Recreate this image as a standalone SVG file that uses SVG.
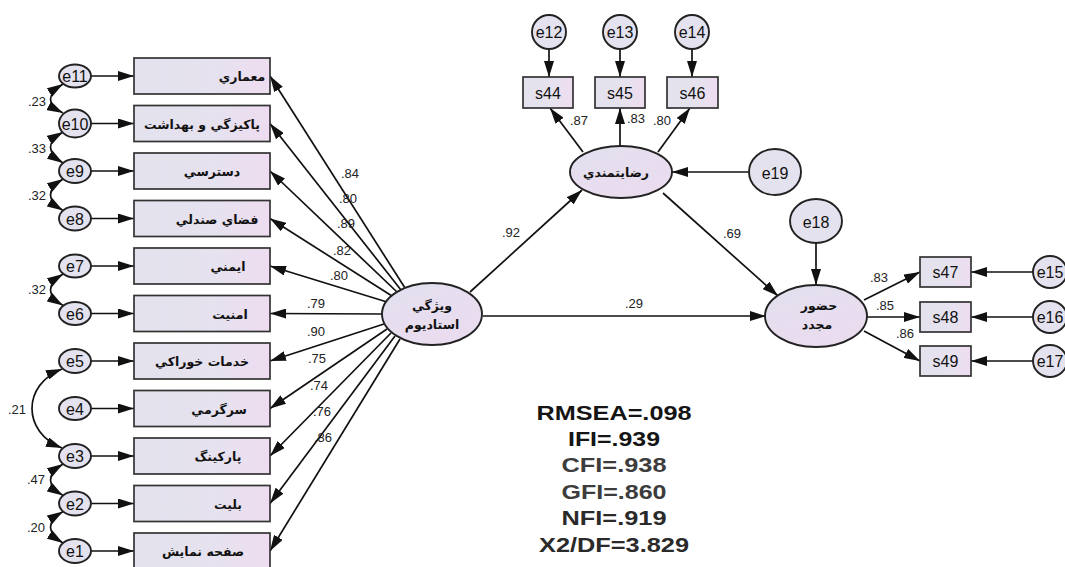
<svg xmlns="http://www.w3.org/2000/svg" width="1065" height="567" viewBox="0 0 1065 567">
<style>
.ln{stroke:#111;stroke-width:1.7;fill:none}
.ar{marker-end:url(#ah)}
.cv{stroke:#111;stroke-width:1.7;fill:none;marker-start:url(#ah);marker-end:url(#ah)}
.box{fill:url(#gb);stroke:#333;stroke-width:1.7}
.el{fill:url(#ge);stroke:#222;stroke-width:1.9}
.er{fill:#e4e2ee;stroke:#222;stroke-width:1.9}
.et{font-family:"Liberation Sans",Arial,sans-serif;font-size:16px;fill:#111;text-anchor:middle}
.fa{font-family:"DejaVu Sans",sans-serif;font-weight:bold;font-size:12.5px;fill:#111;text-anchor:middle}
.nm{font-family:"Liberation Sans",Arial,sans-serif;font-size:13px;fill:#222;text-anchor:middle}
.nl{font-family:"Liberation Sans",Arial,sans-serif;font-size:13px;fill:#222}
.st{font-family:"Liberation Sans",Arial,sans-serif;font-weight:bold;font-size:21px;text-anchor:middle}
</style>
<defs>
<marker id="ah" viewBox="0 0 16 10" refX="16" refY="5" markerWidth="16" markerHeight="10" markerUnits="userSpaceOnUse" orient="auto-start-reverse">
<path d="M0,0 L16,5 L0,10 z" fill="#111"/>
</marker>
<linearGradient id="gb" x1="0" y1="0" x2="1" y2="0">
<stop offset="0" stop-color="#e3e2ed"/>
<stop offset="0.6" stop-color="#e6e2ef"/>
<stop offset="1" stop-color="#eedcf0"/>
</linearGradient>
<linearGradient id="ge" x1="0" y1="0" x2="0.6" y2="1">
<stop offset="0" stop-color="#e2e0ee"/>
<stop offset="1" stop-color="#eadcef"/>
</linearGradient>
</defs>
<rect width="1065" height="567" fill="#fff"/>

<g id="connectors">
<line class="ln ar" x1="91" y1="76" x2="134" y2="76"/>
<line class="ln ar" x1="91" y1="123.5" x2="134" y2="123.5"/>
<line class="ln ar" x1="91" y1="171" x2="134" y2="171"/>
<line class="ln ar" x1="91" y1="218.5" x2="134" y2="218.5"/>
<line class="ln ar" x1="91" y1="266" x2="134" y2="266"/>
<line class="ln ar" x1="91" y1="313.5" x2="134" y2="313.5"/>
<line class="ln ar" x1="91" y1="361" x2="134" y2="361"/>
<line class="ln ar" x1="91" y1="408.5" x2="134" y2="408.5"/>
<line class="ln ar" x1="91" y1="456" x2="134" y2="456"/>
<line class="ln ar" x1="91" y1="503.5" x2="134" y2="503.5"/>
<line class="ln ar" x1="91" y1="551" x2="134" y2="551"/>
<path class="cv" d="M63,84 Q38,100 63,113"/>
<path class="cv" d="M63,132 Q38,147 63,163"/>
<path class="cv" d="M63,179 Q38,195 63,210.5"/>
<path class="cv" d="M63,274 Q38,290 63,305.5"/>
<path class="cv" d="M62,369 C22,385 22,432 62,448"/>
<path class="cv" d="M63,464 Q38,480 63,495.5"/>
<path class="cv" d="M63,511.5 Q38,527 63,543"/>
<line class="ln ar" x1="405" y1="288" x2="270" y2="76"/>
<line class="ln ar" x1="401" y1="290" x2="270" y2="123.5"/>
<line class="ln ar" x1="397" y1="292" x2="270" y2="171"/>
<line class="ln ar" x1="392" y1="296" x2="270" y2="218.5"/>
<line class="ln ar" x1="387" y1="302" x2="270" y2="266"/>
<line class="ln ar" x1="383" y1="314" x2="270" y2="313.5"/>
<line class="ln ar" x1="384" y1="324" x2="270" y2="361"/>
<line class="ln ar" x1="387" y1="329" x2="270" y2="408.5"/>
<line class="ln ar" x1="391" y1="333" x2="270" y2="456"/>
<line class="ln ar" x1="395" y1="336" x2="270" y2="503.5"/>
<line class="ln ar" x1="400" y1="339" x2="270" y2="551"/>
<line class="ln ar" x1="470" y1="292" x2="582" y2="190"/>
<line class="ln ar" x1="663" y1="193" x2="778" y2="296"/>
<line class="ln ar" x1="483" y1="316" x2="766" y2="316"/>
<line class="ln ar" x1="749" y1="172" x2="672" y2="172"/>
<line class="ln ar" x1="816" y1="243" x2="816" y2="285"/>
<line class="ln ar" x1="549" y1="49" x2="549" y2="77"/>
<line class="ln ar" x1="620" y1="49" x2="620" y2="77"/>
<line class="ln ar" x1="692" y1="49" x2="692" y2="77"/>
<line class="ln ar" x1="583" y1="152" x2="550" y2="108"/>
<line class="ln ar" x1="620" y1="146" x2="620" y2="108"/>
<line class="ln ar" x1="658" y1="152" x2="690" y2="108"/>
<line class="ln ar" x1="864" y1="300" x2="920" y2="272"/>
<line class="ln ar" x1="867" y1="317" x2="920" y2="317"/>
<line class="ln ar" x1="864" y1="331" x2="920" y2="361"/>
<line class="ln ar" x1="1033" y1="272" x2="971" y2="272"/>
<line class="ln ar" x1="1033" y1="317" x2="971" y2="317"/>
<line class="ln ar" x1="1033" y1="361" x2="971" y2="361"/>
</g>

<g id="connector-labels">
<text class="nl" x="28" y="106">.23</text>
<text class="nl" x="28" y="153">.33</text>
<text class="nl" x="28" y="200">.32</text>
<text class="nl" x="28" y="294">.32</text>
<text class="nl" x="8" y="414">.21</text>
<text class="nl" x="27" y="484">.47</text>
<text class="nl" x="27" y="532">.20</text>
<text class="nm" x="350" y="178">.84</text>
<text class="nm" x="348" y="203">.80</text>
<text class="nm" x="346" y="228">.89</text>
<text class="nm" x="342" y="255">.82</text>
<text class="nm" x="339" y="280">.80</text>
<text class="nm" x="316" y="308">.79</text>
<text class="nm" x="316" y="336">.90</text>
<text class="nm" x="317" y="363">.75</text>
<text class="nm" x="319" y="390">.74</text>
<text class="nm" x="322" y="416">.76</text>
<text class="nm" x="323" y="442">.86</text>
<text class="nm" x="511" y="237">.92</text>
<text class="nm" x="732" y="238">.69</text>
<text class="nm" x="634" y="308">.29</text>
<text class="nm" x="579" y="125">.87</text>
<text class="nm" x="636" y="123">.83</text>
<text class="nm" x="662" y="125">.80</text>
<text class="nm" x="879" y="282">.83</text>
<text class="nm" x="885" y="310">.85</text>
<text class="nm" x="905" y="338">.86</text>
</g>

<g id="e11"><ellipse class="er" cx="75" cy="76" rx="16" ry="11.5"/><text class="et" x="75" y="82">e11</text></g>
<g id="e10"><ellipse class="er" cx="75" cy="123.5" rx="16" ry="14"/><text class="et" x="75" y="129.5">e10</text></g>
<g id="e9"><ellipse class="er" cx="75" cy="171" rx="16" ry="12"/><text class="et" x="75" y="177">e9</text></g>
<g id="e8"><ellipse class="er" cx="75" cy="218.5" rx="16" ry="12"/><text class="et" x="75" y="224.5">e8</text></g>
<g id="e7"><ellipse class="er" cx="75" cy="266" rx="16" ry="11.5"/><text class="et" x="75" y="272">e7</text></g>
<g id="e6"><ellipse class="er" cx="75" cy="313.5" rx="16" ry="11.5"/><text class="et" x="75" y="319.5">e6</text></g>
<g id="e5"><ellipse class="er" cx="75" cy="361" rx="16" ry="12"/><text class="et" x="75" y="367">e5</text></g>
<g id="e4"><ellipse class="er" cx="75" cy="408.5" rx="16" ry="11.5"/><text class="et" x="75" y="414.5">e4</text></g>
<g id="e3"><ellipse class="er" cx="75" cy="456" rx="16" ry="12"/><text class="et" x="75" y="462">e3</text></g>
<g id="e2"><ellipse class="er" cx="75" cy="503.5" rx="16" ry="12"/><text class="et" x="75" y="509.5">e2</text></g>
<g id="e1"><ellipse class="er" cx="75" cy="551" rx="16" ry="12"/><text class="et" x="75" y="557">e1</text></g>

<g id="b11"><rect class="box" x="134" y="58" width="136" height="36"/><text class="fa" x="242" y="81">معماري</text></g>
<g id="b10"><rect class="box" x="134" y="105.5" width="136" height="36"/><text class="fa" x="202" y="128.5">پاكيزگي و بهداشت</text></g>
<g id="b9"><rect class="box" x="134" y="153" width="136" height="36"/><text class="fa" x="212" y="176">دسترسي</text></g>
<g id="b8"><rect class="box" x="134" y="200.5" width="136" height="36"/><text class="fa" x="217" y="223.5">فضاي صندلي</text></g>
<g id="b7"><rect class="box" x="134" y="248" width="136" height="36"/><text class="fa" x="228" y="271">ايمني</text></g>
<g id="b6"><rect class="box" x="134" y="295.5" width="136" height="36"/><text class="fa" x="230" y="318.5">امنيت</text></g>
<g id="b5"><rect class="box" x="134" y="343" width="136" height="36"/><text class="fa" x="202" y="366">خدمات خوراكي</text></g>
<g id="b4"><rect class="box" x="134" y="390.5" width="136" height="36"/><text class="fa" x="219" y="413.5">سرگرمي</text></g>
<g id="b3"><rect class="box" x="134" y="438" width="136" height="36"/><text class="fa" x="218" y="461">پاركينگ</text></g>
<g id="b2"><rect class="box" x="134" y="485.5" width="136" height="36"/><text class="fa" x="228" y="508.5">بليت</text></g>
<g id="b1"><rect class="box" x="134" y="533" width="136" height="36"/><text class="fa" x="203" y="556">صفحه نمايش</text></g>

<g id="stadium"><ellipse class="el" cx="432" cy="314" rx="50" ry="31"/><text class="fa" x="432" y="310" font-size="13.5">ويژگي</text><text class="fa" x="432" y="329" font-size="13.5">استاديوم</text></g>
<g id="satisfaction"><ellipse class="el" cx="621" cy="172" rx="51" ry="26"/><text class="fa" x="616" y="177">رضايتمندي</text></g>
<g id="revisit"><ellipse class="el" cx="816" cy="316" rx="51" ry="31"/><text class="fa" x="819" y="310">حضور</text><text class="fa" x="817" y="329">مجدد</text></g>

<g id="e12"><ellipse class="er" cx="549" cy="32" rx="17" ry="17"/><text class="et" x="549" y="38" font-size="17">e12</text></g>
<g id="e13"><ellipse class="er" cx="620" cy="32" rx="17" ry="17"/><text class="et" x="620" y="38" font-size="17">e13</text></g>
<g id="e14"><ellipse class="er" cx="692" cy="32" rx="17" ry="17"/><text class="et" x="692" y="38" font-size="17">e14</text></g>
<g id="s44"><rect class="box" x="523" y="77" width="50" height="31"/><text class="et" x="548" y="98.5" font-size="17">s44</text></g>
<g id="s45"><rect class="box" x="595" y="77" width="50" height="31"/><text class="et" x="620" y="98.5" font-size="17">s45</text></g>
<g id="s46"><rect class="box" x="667" y="77" width="51" height="31"/><text class="et" x="692.5" y="98.5" font-size="17">s46</text></g>
<g id="e19"><ellipse class="er" cx="775" cy="172" rx="26" ry="23"/><text class="et" x="775" y="179" font-size="19">e19</text></g>
<g id="e18"><ellipse class="er" cx="816" cy="221" rx="26" ry="22"/><text class="et" x="816" y="228" font-size="18">e18</text></g>
<g id="s47"><rect class="box" x="920" y="257" width="51" height="30"/><text class="et" x="945.5" y="278" font-size="17">s47</text></g>
<g id="s48"><rect class="box" x="920" y="302" width="51" height="30"/><text class="et" x="945.5" y="323" font-size="17">s48</text></g>
<g id="s49"><rect class="box" x="920" y="346" width="51" height="30"/><text class="et" x="945.5" y="367" font-size="17">s49</text></g>
<g id="e15"><ellipse class="er" cx="1050" cy="272" rx="17" ry="16"/><text class="et" x="1050" y="278" font-size="17">e15</text></g>
<g id="e16"><ellipse class="er" cx="1050" cy="317" rx="17" ry="16"/><text class="et" x="1050" y="323" font-size="17">e16</text></g>
<g id="e17"><ellipse class="er" cx="1050" cy="361" rx="17" ry="16"/><text class="et" x="1050" y="367" font-size="17">e17</text></g>

<g id="fit-indices">
<text class="st" x="614" y="420" fill="#151515" textLength="155" lengthAdjust="spacingAndGlyphs">RMSEA=.098</text>
<text class="st" x="614" y="446" fill="#151515" textLength="92" lengthAdjust="spacingAndGlyphs">IFI=.939</text>
<text class="st" x="614" y="472" fill="#3c3c3c" textLength="105" lengthAdjust="spacingAndGlyphs">CFI=.938</text>
<text class="st" x="614" y="499" fill="#3c3c3c" textLength="105" lengthAdjust="spacingAndGlyphs">GFI=.860</text>
<text class="st" x="614" y="525" fill="#2a2a2a" textLength="105" lengthAdjust="spacingAndGlyphs">NFI=.919</text>
<text class="st" x="614" y="552" fill="#2a2a2a" textLength="150" lengthAdjust="spacingAndGlyphs">X2/DF=3.829</text>
</g>
</svg>
